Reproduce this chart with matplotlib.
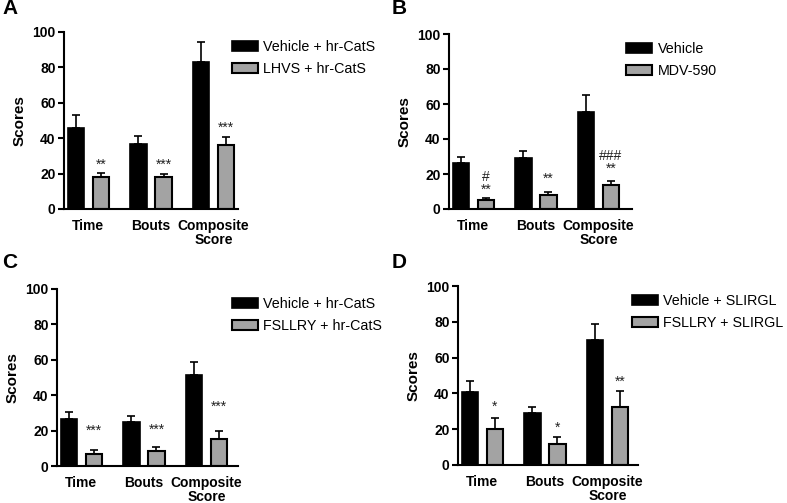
import numpy as np
import matplotlib
matplotlib.use("Agg")
import matplotlib.pyplot as plt

plt.rcParams["font.family"] = ["Liberation Sans", "DejaVu Sans"]

categories = ["Time", "Bouts", "Composite\nScore"]

# panel A
a_labels = ["Vehicle + hr-CatS", "LHVS + hr-CatS"]
a_ctrl = [46, 37, 83]
a_ctrl_err = [7, 4, 11.5]
a_trt = [18, 18, 36]
a_trt_err = [2.5, 2, 4.5]
a_marks = ["**", "***", "***"]
a_mark_y = [25, 25, 46]

# panel B
b_labels = ["Vehicle", "MDV-590"]
b_ctrl = [26.5, 29, 55.5]
b_ctrl_err = [3.5, 4, 9.5]
b_trt = [5, 8, 13.5]
b_trt_err = [1.5, 1.5, 2.5]
b_marks = ["#\n**", "**", "###\n**"]
b_mark_y = [14.5, 17, 26.5]

# panel C
c_labels = ["Vehicle + hr-CatS", "FSLLRY + hr-CatS"]
c_ctrl = [26.5, 25, 51.5]
c_ctrl_err = [4, 3.5, 7]
c_trt = [7, 8.5, 15.5]
c_trt_err = [2, 2, 4]
c_marks = ["***", "***", "***"]
c_mark_y = [20, 20.5, 33.5]

# panel D
d_labels = ["Vehicle + SLIRGL", "FSLLRY + SLIRGL"]
d_ctrl = [41, 29, 70]
d_ctrl_err = [6, 3.5, 8.5]
d_trt = [20, 12, 32.5]
d_trt_err = [6, 3.5, 9]
d_marks = ["*", "*", "**"]
d_mark_y = [32.5, 21, 46.5]

panels = [
    ("A", [64, 32, 174, 177], [2, 9], a_labels, a_ctrl, a_ctrl_err, a_trt, a_trt_err, a_marks, a_mark_y),
    ("B", [449, 34, 183, 175], [392, 9], b_labels, b_ctrl, b_ctrl_err, b_trt, b_trt_err, b_marks, b_mark_y),
    ("C", [57, 289, 181, 177], [2, 263], c_labels, c_ctrl, c_ctrl_err, c_trt, c_trt_err, c_marks, c_mark_y),
    ("D", [458, 286, 180, 179], [392, 263], d_labels, d_ctrl, d_ctrl_err, d_trt, d_trt_err, d_marks, d_mark_y),
]

W, H = 787, 503
fig = plt.figure(figsize=(W / 100, H / 100), dpi=100)

x = np.arange(len(categories))
off = 0.2
bw = 0.26

for letter, (px, py, pw, ph), (lx, ly), labels, ctrl, ctrl_err, trt, trt_err, marks, mark_y in panels:
    ax = fig.add_axes([px / W, 1 - (py + ph) / H, pw / W, ph / H])
    ax.bar(x - off, ctrl, bw, color="black", edgecolor="black", linewidth=1.2,
           yerr=[np.zeros(3), ctrl_err], capsize=3,
           error_kw=dict(elinewidth=1.2, capthick=1.2, ecolor="black"),
           label=labels[0], zorder=2)
    ax.bar(x + off, trt, bw, color="#a3a3a3", edgecolor="black", linewidth=1.5,
           yerr=[np.zeros(3), trt_err], capsize=3,
           error_kw=dict(elinewidth=1.2, capthick=1.2, ecolor="black"),
           label=labels[1], zorder=2)
    for xi, m, my in zip(x, marks, mark_y):
        ax.text(xi + off, my, m, ha="center", va="center", fontsize=10,
                linespacing=0.85, color="#222222")

    ax.set_xlim(-0.39, x[-1] + 0.39 + (pw - 174) / 62)
    ax.set_ylim(0, 100)
    ax.set_yticks([0, 20, 40, 60, 80, 100])
    ax.set_xticks(x)
    ax.set_xticklabels(categories, fontsize=10, fontweight="bold", linespacing=1.0)
    ax.tick_params(axis="x", length=0, pad=7)
    ax.tick_params(axis="y", length=4, width=1.5, labelsize=10, pad=2)
    for lab in ax.get_yticklabels():
        lab.set_fontweight("bold")
    ax.set_ylabel("Scores", fontsize=11, fontweight="bold", labelpad=4)
    for s in ["top", "right"]:
        ax.spines[s].set_visible(False)
    for s in ["left", "bottom"]:
        ax.spines[s].set_linewidth(1.5)

    ax.legend(loc="upper left", bbox_to_anchor=((px + pw - 6) / W, 1 - (py + 8) / H),
              bbox_transform=fig.transFigure, frameon=False, fontsize=10.3,
              handlelength=1.8, handleheight=0.75, handletextpad=0.4,
              labelspacing=0.55, borderaxespad=0, borderpad=0)

    fig.text(lx / W, 1 - ly / H, letter, fontsize=15,
             fontweight="bold", va="center", ha="left")

fig.savefig("out.png", dpi=100)
